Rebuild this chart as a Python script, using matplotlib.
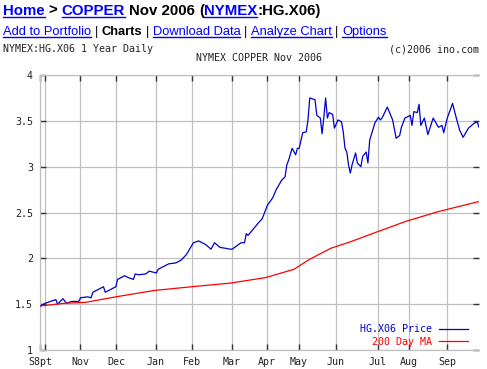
import numpy as np
import matplotlib

matplotlib.use("Agg")
import matplotlib.pyplot as plt
from matplotlib.lines import Line2D

W, H = 487, 369

# trading-day index (0 = first session on chart) and settlement price
price_day = [0, 1, 3, 9, 10, 13, 15, 18, 22, 23, 27, 29, 30, 34, 36, 37, 43, 44, 48, 50,
             53, 54, 56, 60, 62, 66, 67, 71, 73, 77, 80, 83, 87, 90, 94, 97, 99, 102, 108,
             109, 114, 116, 117, 118, 124, 126, 129, 132, 134, 137, 139, 140, 141, 143, 145,
             146, 147, 149, 151, 152, 153, 156, 157, 159, 160, 161, 162, 163, 164, 166, 167,
             169, 171, 172, 173, 174, 175, 176, 177, 179, 180, 182, 183, 185, 186, 187, 190,
             192, 193, 194, 197, 200, 202, 204, 205, 207, 210, 211, 212, 214, 215, 216, 218,
             220, 223, 226, 228, 229, 231, 234, 236, 238, 240, 243, 246, 248, 249]
price_val = [1.48, 1.49, 1.51, 1.55, 1.50, 1.56, 1.51, 1.53, 1.53, 1.57, 1.58, 1.57, 1.63,
             1.67, 1.69, 1.63, 1.69, 1.77, 1.81, 1.79, 1.77, 1.83, 1.82, 1.83, 1.86, 1.84,
             1.88, 1.92, 1.94, 1.95, 1.98, 2.04, 2.17, 2.19, 2.15, 2.10, 2.17, 2.12, 2.10,
             2.10, 2.17, 2.17, 2.27, 2.25, 2.39, 2.43, 2.58, 2.66, 2.75, 2.85, 2.89, 3.02,
             3.07, 3.20, 3.13, 3.20, 3.20, 3.37, 3.38, 3.51, 3.75, 3.73, 3.56, 3.53, 3.36,
             3.54, 3.75, 3.53, 3.59, 3.57, 3.42, 3.51, 3.49, 3.38, 3.20, 3.16, 3.02, 2.93,
             3.02, 3.15, 3.04, 3.00, 3.11, 3.16, 3.04, 3.29, 3.48, 3.54, 3.51, 3.53, 3.65,
             3.51, 3.31, 3.34, 3.43, 3.53, 3.56, 3.45, 3.60, 3.59, 3.68, 3.45, 3.53, 3.35,
             3.53, 3.43, 3.45, 3.37, 3.53, 3.69, 3.54, 3.40, 3.32, 3.42, 3.47, 3.49, 3.43]

ma_day = [0, 14, 26, 43, 65, 86, 108, 128, 144, 153, 165, 176, 190, 207, 226, 249]
ma_val = [1.48, 1.51, 1.52, 1.58, 1.65, 1.69, 1.73, 1.79, 1.88, 1.99, 2.11, 2.18, 2.28,
          2.40, 2.51, 2.62]

month_pos = [0, 2.8, 22.7, 43.1, 65.8, 86.2, 108.9, 128.7, 146.9, 167.8, 191.6, 209.2, 230.8]
month_lab = ["S8pt", "", "Nov", "Dec", "Jan", "Feb", "Mar", "Apr", "May", "Jun", "Jul",
             "Aug", "Sep"]
y_ticks = [1, 1.5, 2, 2.5, 3, 3.5, 4]
y_lab = ["1", "1.5", "2", "2.5", "3", "3.5", "4"]

LINK = "#0000ff"
MONO = 7.2

plt.rcParams["font.family"] = "DejaVu Sans Mono"


def text_run(fig, renderer, x, y, pieces, size):
    """Draw mixed-style header text left to right; y is baseline from top (pixels)."""
    for txt, color, weight, link, gap in pieces:
        if gap:
            a = fig.text(0, 0, "x x", fontsize=size, fontweight=weight, family="Liberation Sans")
            b = fig.text(0, 0, "xx", fontsize=size, fontweight=weight, family="Liberation Sans")
            x += a.get_window_extent(renderer).width - b.get_window_extent(renderer).width
            a.remove()
            b.remove()
        t = fig.text(x / W, 1 - y / H, txt, color=color, fontsize=size, fontweight=weight,
                     family="Liberation Sans", ha="left", va="baseline")
        bb = t.get_window_extent(renderer)
        if link:
            fig.add_artist(Line2D([bb.x0 / W, bb.x1 / W], [1 - (y + 1.5) / H] * 2,
                                  color=color, lw=1.0))
        x = bb.x1


fig = plt.figure(figsize=(W / 100, H / 100), dpi=100)
fig.patch.set_facecolor("white")
renderer = fig.canvas.get_renderer()

line1 = [("Home", LINK, "bold", True, False),
         (">", "black", "bold", False, True),
         ("COPPER", LINK, "bold", True, True),
         ("Nov 2006", "black", "bold", False, True),
         ("(", "black", "bold", False, True),
         ("NYMEX", LINK, "bold", True, False),
         (":HG.X06)", "black", "bold", False, False)]
text_run(fig, renderer, 3, 15, line1, 10.8)

line2 = [("Add to Portfolio", LINK, "normal", True, False),
         ("|", "black", "normal", False, True),
         ("Charts", "black", "bold", False, True),
         ("|", "black", "normal", False, True),
         ("Download Data", LINK, "normal", True, True),
         ("|", "black", "normal", False, True),
         ("Analyze Chart", LINK, "normal", True, True),
         ("|", "black", "normal", False, True),
         ("Options", LINK, "normal", True, True)]
text_run(fig, renderer, 3, 35, line2, 9.3)

fig.text(3 / W, 1 - 52 / H, "NYMEX:HG.X06 1 Year Daily", fontsize=MONO, color="#222",
         va="baseline", ha="left")
fig.text(479 / W, 1 - 52 / H, "(c)2006 ino.com", fontsize=MONO, color="#222",
         va="baseline", ha="right")
fig.text(259 / W, 1 - 61 / H, "NYMEX COPPER Nov 2006", fontsize=MONO, color="#222",
         va="baseline", ha="center")

ax = fig.add_axes([40 / W, 1 - 350 / H, 439 / W, 275 / H])

ax.plot(price_day, price_val, color="#0000cc", lw=0.9, label="HG.X06 Price", zorder=3)
ax.plot(ma_day, ma_val, color="#ff0000", lw=0.9, label="200 Day MA", zorder=3)

ax.set_xlim(0, 249)
ax.set_ylim(1, 4)
ax.set_xticks(month_pos)
ax.set_xticklabels(month_lab)
ax.set_yticks(y_ticks)
ax.set_yticklabels(y_lab)
ax.tick_params(direction="in", length=4, width=1, color="#333", top=True, right=True,
               labelsize=MONO, labelcolor="#222", pad=5)
ax.grid(True, color="#c0c0c0", lw=0.9)
ax.set_axisbelow(True)
for side in ["left", "top", "bottom"]:
    ax.spines[side].set_color("#c0c0c0")
    ax.spines[side].set_linewidth(0.9)
ax.spines["right"].set_visible(False)

ax.legend(loc="lower right", bbox_to_anchor=(0.975, 0.012), frameon=False,
          markerfirst=False, labelcolor="linecolor", fontsize=MONO, handlelength=2.9,
          handletextpad=0.7, labelspacing=0.25, borderpad=0, borderaxespad=0)

fig.savefig("out.png", dpi=100)
